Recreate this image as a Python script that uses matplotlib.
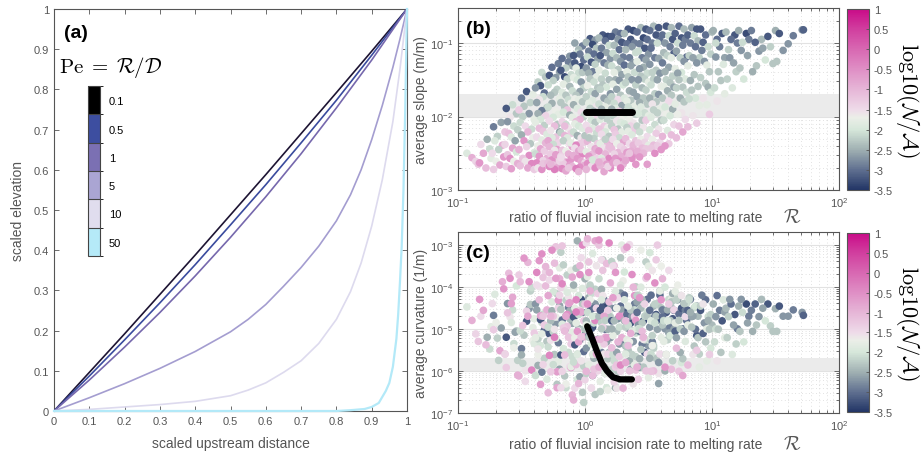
import numpy as np
import matplotlib
matplotlib.use('Agg')
import matplotlib.pyplot as plt
from matplotlib.colors import LinearSegmentedColormap, ListedColormap, BoundaryNorm, Normalize
import matplotlib.ticker as mticker
import matplotlib.colorbar as mcolorbar

plt.rcParams['font.family'] = ['Liberation Sans', 'DejaVu Sans']
plt.rcParams['mathtext.fontset'] = 'cm'

# ---------------- panel (a): scaled profiles ----------------
pe_labels = ['0.1', '0.5', '1', '5', '10', '50']
pe_colors = ['#1d1433', '#3a4b9e', '#7668ad', '#a49dd0', '#dddaee', '#b3e9f8']
box_colors = ['#000000', '#3d4ea0', '#7b70b3', '#aaa5d3', '#e0ddee', '#b5eaf8']

x_lin = [0, 0.1, 0.2, 0.3, 0.4, 0.5, 0.6, 0.7, 0.8, 0.9, 1.0]
z_pe01 = [0, 0.096, 0.192, 0.29, 0.388, 0.488, 0.588, 0.69, 0.792, 0.895, 1.0]
z_pe05 = [0, 0.087, 0.177, 0.269, 0.364, 0.463, 0.563, 0.667, 0.773, 0.885, 1.0]
z_pe1 = [0, 0.077, 0.159, 0.245, 0.336, 0.432, 0.533, 0.64, 0.754, 0.873, 1.0]
x_pe5 = [0, .1, .2, .3, .4, .5, .55, .6, .65, .7, .75, .8, .84, .87, .9, .93, .96, .98, 1]
z_pe5 = [0, .033, .068, .106, .148, .197, .228, .265, .31, .357, .41, .473, .538, .6, .675, .76, .855, .925, 1]
x_pe10 = [0, .1, .2, .3, .4, .5, .55, .6, .65, .7, .75, .8, .84, .87, .9, .93, .96, .98, 1]
z_pe10 = [0, .004, .01, .016, .024, .038, .052, .07, .096, .125, .168, .228, .297, .368, .46, .575, .72, .85, 1]
x_pe50 = [0, .8, .84, .88, .9, .92, .94, .95, .96, .97, .975, .98, .985, .99, .995, 1]
z_pe50 = [0, 0, .002, .005, .01, .02, .05, .07, .11, .18, .24, .32, .41, .55, .75, 1]

# ---------------- panels (b),(c): model runs (log10 values) ----------------
# log10(R) x100
log_R = [
 -93,-89,-86,-84,
 -77,-82,-75,-80,-74,-83,-78,
 -66,-72,-63,-69,-71,-65,-68,-73,-64,-70,-67,-72,
 -57,-62,-54,-59,-61,-56,-53,-60,-58,-55,-63,-57,-54,-61,-59,-56,-53,-62,-58,
 -46,-41,-50,-43,-48,-52,-44,-49,-40,-51,-47,-42,-45,-50,-41,-48,-43,-46,-52,-40,-44,-49,-47,-42,-51,-45,-40,
 -34,-31,-37,-35,-39,-32,-33,-36,-38,-30,-34,-37,-31,-35,-39,-32,-36,-33,-30,-38,-34,-31,-37,-35,-32,-39,-36,-30,-33,-38,-31,-35,-37,-34,-33,
 -21,-26,-20,-28,-23,-25,-29,-22,-24,-27,-20,-26,-29,-23,-21,-25,-28,-22,-24,-27,-20,-23,-26,-29,-21,-25,-28,-22,-24,-27,-20,-23,-26,-29,-21,-25,-28,-22,-24,-27,-20,-23,
 -12,-18,-13,-10,-15,-19,-11,-16,-14,-17,-12,-10,-18,-15,-13,-19,-11,-16,-14,-17,-12,-10,-18,-15,-13,-19,-11,-16,-14,-17,-12,-10,-18,-15,-13,-19,-11,-16,-14,-17,-12,-10,-18,-15,-13,-19,-11,-16,
 -2,-8,-5,-6,-4,-9,-1,-8,-3,-7,-5,-2,-9,-6,-3,0,-1,-4,-7,-8,-5,-2,-9,-6,-3,0,-1,-4,-7,-8,-5,-2,-9,-6,-3,0,-1,-4,-7,-8,-5,-2,-9,-6,-3,0,-1,-4,-7,-5,0,-3,
 4,8,1,6,9,3,7,2,10,5,8,1,6,3,9,4,7,2,10,5,8,1,6,3,9,4,7,2,10,5,8,1,6,3,9,4,7,2,10,5,8,1,6,3,9,4,7,2,10,5,8,1,6,3,9,
 14,18,11,16,19,13,17,12,20,15,18,11,16,13,19,14,17,12,20,15,18,11,16,13,19,14,17,12,20,15,18,11,16,13,19,14,17,12,20,15,18,11,16,13,19,14,17,12,20,15,18,11,16,13,19,
 24,28,21,26,29,23,27,22,30,25,28,21,26,23,29,24,27,22,30,25,28,21,26,23,29,24,27,22,30,25,28,21,26,23,29,24,27,22,30,25,28,21,26,23,29,24,27,22,30,25,28,21,
 34,38,31,36,39,33,37,32,40,35,38,31,36,33,39,34,37,32,40,35,38,31,36,33,39,34,37,32,40,35,38,31,36,33,39,34,37,32,40,35,38,31,36,33,39,34,37,32,40,35,
 44,48,41,46,49,43,47,42,50,45,48,41,46,43,49,44,47,42,50,45,48,41,46,43,49,44,47,42,50,45,48,41,46,43,49,44,47,42,50,45,48,41,46,43,49,
 54,58,51,56,59,53,57,52,60,55,58,51,56,53,59,54,57,52,60,55,58,51,56,53,59,54,57,52,60,55,58,51,56,53,59,54,57,52,60,55,
 64,68,61,66,69,63,67,62,70,65,68,61,66,63,69,64,67,62,70,65,68,61,66,63,69,64,67,62,70,65,68,61,66,63,
 74,78,71,76,79,73,77,72,80,75,78,71,76,73,79,74,77,72,80,75,78,71,76,73,79,74,77,72,
 84,88,81,86,89,83,87,82,90,85,88,81,86,83,89,84,87,82,90,85,88,81,
 95,91,100,93,97,92,99,94,96,98,91,95,97,99,93,96,98,
 101,108,104,106,103,110,109,105,107,102,103,110,104,
 111,118,115,113,120,114,117,119,112,116,
 121,127,129,124,123,128,122,125,
 131,139,134,137,135,132,
 144,146,140,142,148,
 150,153,156,151,
 164,160,
 171,172]
# log10(average slope) x100
log_slope = [
 -250,-256,-261,-265,
 -231,-238,-244,-250,-257,-263,-270,
 -208,-214,-221,-227,-233,-239,-245,-250,-255,-261,-266,-272,
 -184,-189,-196,-201,-207,-213,-218,-223,-228,-233,-238,-243,-248,-252,-257,-261,-264,-268,-271,
 -166,-170,-175,-181,-186,-191,-196,-200,-204,-208,-213,-217,-221,-225,-229,-233,-237,-241,-245,-249,-253,-257,-261,-264,-267,-270,-272,
 -140,-146,-153,-158,-161,-168,-173,-177,-181,-188,-192,-196,-199,-204,-208,-212,-216,-220,-224,-228,-232,-236,-240,-244,-247,-251,-254,-257,-260,-263,-266,-268,-270,-272,-264,
 -128,-133,-139,-144,-147,-151,-157,-163,-167,-171,-176,-182,-187,-193,-197,-201,-206,-211,-213,-219,-221,-228,-229,-233,-236,-238,-241,-245,-246,-251,-255,-256,-259,-263,-264,-266,-268,-270,-272,-265,-261,-252,
 -118,-121,-126,-131,-134,-137,-143,-146,-149,-156,-159,-165,-167,-171,-177,-181,-182,-187,-191,-194,-198,-201,-207,-211,-216,-222,-223,-226,-229,-233,-237,-241,-246,-247,-251,-254,-258,-261,-263,-264,-266,-268,-271,-274,-270,-256,-236,-213,
 -104,-100,-109,-114,-115,-117,-123,-127,-132,-134,-141,-140,-147,-150,-153,-160,-161,-166,-171,-176,-177,-180,-184,-189,-194,-197,-200,-204,-207,-210,-213,-216,-221,-226,-229,-231,-235,-237,-239,-243,-247,-251,-253,-257,-261,-263,-267,-269,-271,-275,-226,-245,
 -94,-96,-99,-102,-107,-111,-115,-119,-122,-126,-129,-134,-139,-141,-146,-149,-153,-158,-161,-166,-169,-173,-178,-182,-186,-189,-193,-197,-201,-205,-208,-212,-216,-219,-223,-227,-230,-234,-237,-241,-244,-248,-251,-254,-257,-260,-262,-264,-266,-268,-270,-272,-259,-229,-245,
 -89,-91,-93,-97,-103,-107,-113,-117,-121,-127,-130,-137,-141,-149,-150,-157,-160,-163,-169,-175,-179,-183,-187,-190,-193,-197,-203,-204,-209,-213,-215,-217,-221,-224,-227,-234,-235,-237,-240,-243,-246,-247,-251,-257,-257,-261,-265,-267,-270,-275,-268,-262,-231,-199,-241,
 -85,-87,-91,-95,-99,-103,-109,-114,-119,-120,-125,-131,-136,-140,-143,-150,-151,-156,-157,-163,-171,-173,-177,-182,-185,-189,-193,-199,-200,-206,-208,-213,-217,-218,-221,-224,-229,-231,-235,-237,-241,-244,-249,-251,-254,-257,-261,-263,-265,-263,-270,-190,
 -81,-83,-87,-95,-100,-101,-105,-109,-113,-120,-127,-130,-131,-139,-140,-146,-150,-154,-157,-165,-167,-175,-178,-179,-186,-187,-193,-196,-197,-204,-209,-210,-213,-215,-219,-220,-225,-230,-233,-237,-239,-245,-247,-249,-251,-255,-257,-260,-265,-250,
 -79,-81,-85,-93,-95,-101,-107,-111,-115,-120,-123,-125,-133,-135,-141,-145,-149,-150,-153,-161,-164,-173,-175,-181,-183,-187,-195,-196,-199,-205,-205,-213,-215,-221,-227,-231,-235,-236,-239,-243,-244,-247,-250,-255,-265,
 -77,-79,-83,-89,-97,-100,-100,-107,-119,-120,-121,-129,-137,-140,-141,-149,-150,-157,-159,-169,-170,-175,-180,-183,-190,-191,-195,-201,-205,-211,-217,-218,-223,-231,-235,-239,-240,-243,-245,-250,
 -77,-79,-89,-90,-95,-100,-105,-113,-114,-117,-120,-127,-133,-139,-145,-150,-154,-159,-160,-165,-171,-175,-179,-187,-190,-197,-199,-205,-211,-219,-225,-227,-237,-240,
 -77,-81,-87,-93,-95,-100,-103,-111,-119,-120,-125,-135,-140,-141,-149,-150,-160,-161,-167,-175,-180,-183,-195,-197,-204,-213,-221,-229,
 -79,-81,-89,-90,-97,-100,-105,-117,-120,-120,-127,-131,-143,-151,-159,-164,-175,-176,-185,-199,-209,-214,
 -89,-81,-85,-99,-105,-110,-115,-125,-130,-139,-147,-155,-160,-167,-175,-184,-197,
 -83,-87,-95,-105,-100,-120,-129,-139,-151,-161,-119,-169,-179,
 -85,-89,-95,-109,-100,-120,-127,-139,-149,-161,
 -83,-87,-95,-99,-110,-117,-134,-149,
 -83,-95,-99,-111,-131,-139,
 -91,-105,-107,-123,-128,
 -83,-87,-110,-125,
 -90,-101,
 -82,-82]
# log10(average curvature) x100
log_curv = [
 -448,-480,-512,-530,
 -520,-470,-548,-456,-495,-430,-538,
 -498,-468,-560,-522,-418,-388,-575,-440,-405,-485,-552,-502,
 -455,-520,-505,-472,-440,-535,-575,-368,-485,-508,-560,-425,-398,-462,-380,-545,-610,-592,-440,
 -482,-497,-547,-410,-515,-372,-452,-582,-476,-505,-625,-402,-342,-562,-528,-332,-442,-458,-612,-535,-388,-492,-600,-598,-388,-470,-510,
 -485,-497,-524,-478,-441,-503,-465,-400,-455,-530,-603,-587,-365,-540,-521,-570,-431,-378,-620,-396,-512,-352,-562,-469,-491,-611,-338,-455,-585,-366,-398,-632,-548,-322,-470,
 -533,-468,-445,-512,-488,-507,-543,-417,-561,-481,-355,-457,-496,-472,-577,-412,-384,-632,-344,-527,-596,-305,-436,-421,-451,-585,-366,-602,-501,-602,-381,-522,-313,-652,-432,-470,-563,-640,-520,-470,-420,-380,
 -461,-479,-449,-487,-432,-562,-516,-503,-372,-401,-476,-566,-489,-468,-556,-454,-361,-612,-494,-547,-458,-508,-601,-640,-424,-318,-536,-505,-413,-348,-590,-377,-303,-631,-440,-402,-592,-562,-466,-498,-438,-657,-393,-470,-520,-640,-590,-505,
 -461,-470,-499,-560,-526,-472,-554,-538,-430,-486,-466,-441,-405,-620,-511,-381,-675,-614,-356,-521,-505,-651,-396,-561,-331,-500,-589,-350,-585,-451,-421,-404,-579,-291,-576,-441,-481,-456,-431,-641,-531,-301,-669,-506,-460,-621,-519,-371,-460,-630,-500,-519,
 -456,-441,-481,-496,-471,-516,-451,-461,-525,-499,-406,-546,-611,-426,-531,-401,-486,-341,-551,-416,-556,-606,-321,-586,-350,-396,-570,-376,-600,-536,-656,-296,-561,-341,-476,-431,-530,-286,-416,-640,-291,-491,-611,-366,-451,-410,-596,-441,-526,-641,-480,-601,-470,-520,-560,
 -446,-441,-471,-501,-476,-556,-531,-456,-521,-431,-501,-541,-606,-486,-556,-336,-640,-649,-450,-590,-571,-381,-606,-406,-460,-421,-596,-525,-471,-536,-646,-301,-480,-336,-471,-496,-345,-625,-391,-560,-456,-289,-520,-431,-296,-361,-521,-525,-606,-470,-560,-591,-480,-500,-436,
 -451,-446,-481,-476,-526,-481,-590,-561,-526,-506,-415,-546,-601,-430,-455,-640,-536,-516,-470,-556,-331,-600,-426,-576,-466,-411,-566,-596,-386,-641,-396,-340,-620,-350,-301,-591,-496,-351,-470,-451,-601,-545,-531,-626,-521,-366,-470,-426,-641,-586,-586,-500,
 -456,-451,-481,-486,-441,-466,-531,-541,-510,-501,-530,-420,-596,-526,-455,-551,-470,-496,-566,-576,-506,-431,-455,-620,-586,-491,-561,-560,-400,-531,-631,-365,-336,-540,-471,-446,-505,-481,-598,-300,-401,-311,-511,-306,-421,-540,-371,-580,-480,-600,
 -451,-471,-461,-481,-430,-506,-556,-420,-540,-536,-526,-500,-521,-591,-460,-549,-470,-491,-526,-431,-341,-436,-591,-571,-470,-401,-526,-500,-351,-486,-380,-421,-525,-500,-560,-313,-441,-620,-616,-506,-600,-591,-520,-426,-376,
 -446,-479,-456,-466,-420,-531,-440,-420,-521,-470,-630,-496,-570,-516,-410,-546,-501,-560,-351,-441,-580,-570,-470,-361,-410,-540,-441,-481,-450,-486,-606,-319,-336,-540,-560,-600,-301,-601,-431,-391,
 -461,-451,-471,-430,-476,-500,-496,-480,-456,-526,-430,-455,-510,-600,-576,-561,-480,-530,-501,-455,-436,-491,-361,-401,-416,-561,-516,-481,-455,-481,-596,-381,-441,-591,
 -465,-441,-506,-451,-456,-420,-500,-521,-480,-500,-506,-486,-580,-431,-530,-480,-571,-431,-440,-556,-440,-411,-421,-396,-471,-601,-611,-546,
 -471,-516,-456,-450,-470,-430,-501,-426,-560,-470,-446,-491,-541,-461,-521,-496,-446,-431,-591,-561,-551,-586,
 -431,-456,-491,-511,-471,-420,-466,-486,-500,-501,-446,-531,-480,-546,-441,-576,-561,
 -441,-481,-421,-456,-500,-460,-431,-501,-556,-531,-471,-521,-576,
 -451,-466,-441,-471,-500,-430,-491,-536,-521,-561,
 -446,-441,-470,-461,-430,-486,-506,-531,
 -456,-430,-441,-471,-491,-506,
 -441,-493,-451,-481,-506,
 -452,-446,-470,-506,
 -455,-470,
 -461,-468]
# log10(N/A) x10
log_NA = [
 -19,-9,-14,-12,
 -25,-15,-21,-8,-18,-6,-11,
 -26,-29,-12,-22,-19,-9,-22,-15,-6,-17,-8,-13,
 -21,-32,-23,-16,-27,-21,-22,-11,-19,-26,-14,-8,-20,-12,-5,-17,-9,-13,-7,
 -32,-18,-29,-22,-23,-13,-27,-22,-18,-21,-15,-21,-10,-25,-17,-6,-23,-14,-9,-19,-5,-12,-16,-4,-11,-8,-13,
 -21,-23,-22,-32,-27,-30,-21,-16,-26,-23,-29,-25,-14,-20,-18,-22,-11,-12,-19,-15,-18,-10,-17,-8,-13,-21,-6,-9,-14,-4,-11,-7,-16,-5,-12,
 -29,-30,-26,-32,-27,-22,-21,-22,-23,-24,-18,-25,-21,-17,-18,-20,-15,-23,-11,-16,-26,-12,-19,-8,-14,-21,-10,-7,-16,-13,-9,-18,-5,-11,-6,-12,-4,-8,-3,-10,-14,-7,
 -27,-30,-29,-26,-22,-32,-21,-33,-22,-18,-24,-21,-19,-23,-21,-23,-17,-23,-12,-20,-25,-18,-14,-21,-16,-22,-13,-10,-19,-22,-15,-8,-12,-17,-9,-14,-6,-11,-5,-13,-7,-10,-4,-8,-12,-15,-18,-11,
 -29,-26,-24,-21,-29,-32,-30,-32,-33,-18,-21,-23,-18,-20,-27,-25,-22,-26,-23,-17,-18,-23,-25,-19,-15,-21,-22,-10,-11,-18,-20,-19,-21,-25,-16,-12,-13,-13,-4,-15,-8,-4,-9,-6,-8,-14,-9,-5,-3,-10,-23,-12,
 -32,-27,-24,-33,-23,-29,-30,-21,-26,-32,-22,-27,-29,-25,-18,-23,-21,-17,-23,-21,-26,-22,-19,-18,-16,-22,-25,-18,-14,-20,-23,-15,-19,-12,-21,-17,-22,-10,-13,-16,-8,-18,-11,-6,-14,-9,-12,-5,-7,-15,-4,-10,-20,-23,-9,
 -32,-33,-24,-30,-21,-29,-26,-32,-27,-29,-25,-18,-21,-22,-24,-23,-20,-22,-27,-26,-23,-21,-18,-25,-18,-16,-22,-19,-22,-13,-17,-12,-20,-15,-23,-14,-11,-18,-9,-16,-13,-6,-10,-19,-4,-12,-7,-10,-5,-8,-14,-9,-22,-23,-11,
 -29,-30,-32,-27,-32,-24,-30,-21,-29,-24,-27,-21,-23,-18,-26,-25,-27,-18,-20,-26,-23,-22,-15,-21,-26,-19,-13,-22,-17,-16,-19,-22,-23,-12,-18,-13,-21,-15,-8,-17,-14,-11,-10,-14,-9,-6,-5,-7,-10,-12,-4,-25,
 -32,-33,-24,-32,-29,-30,-27,-24,-21,-29,-27,-30,-26,-18,-21,-23,-27,-22,-22,-25,-26,-19,-23,-18,-18,-21,-22,-19,-22,-17,-16,-20,-14,-22,-13,-18,-19,-11,-12,-15,-10,-13,-9,-7,-6,-11,-5,-8,-6,-12,
 -24,-32,-30,-33,-30,-29,-32,-21,-27,-29,-26,-18,-25,-27,-21,-23,-22,-27,-18,-24,-22,-26,-23,-25,-23,-19,-21,-20,-18,-23,-13,-22,-16,-21,-15,-17,-14,-13,-18,-11,-12,-9,-10,-6,-7,
 -24,-32,-30,-32,-30,-29,-21,-30,-18,-29,-26,-27,-23,-22,-27,-22,-26,-21,-17,-22,-27,-25,-23,-16,-18,-22,-22,-19,-23,-21,-16,-20,-13,-17,-15,-11,-13,-12,-6,-5,
 -32,-24,-30,-21,-32,-27,-29,-24,-31,-22,-18,-29,-26,-25,-22,-22,-23,-18,-26,-25,-23,-23,-15,-20,-25,-17,-20,-21,-14,-19,-11,-10,-13,-6,
 -30,-24,-31,-32,-29,-21,-29,-26,-30,-22,-27,-18,-20,-26,-19,-23,-23,-22,-21,-25,-23,-18,-16,-17,-15,-12,-8,-11,
 -26,-32,-31,-21,-24,-29,-30,-22,-22,-26,-27,-18,-23,-25,-23,-23,-20,-21,-18,-16,-13,-11,
 -30,-32,-24,-31,-21,-29,-22,-27,-18,-23,-22,-23,-25,-20,-16,-18,-13,
 -25,-32,-30,-29,-21,-26,-19,-23,-23,-21,-27,-18,-16,
 -24,-32,-30,-22,-29,-27,-26,-22,-22,-19,
 -25,-33,-29,-21,-27,-26,-23,-20,
 -29,-24,-31,-27,-23,-25,
 -32,-22,-26,-20,-23,
 -25,-32,-27,-23,
 -29,-27,
 -27,-31]

# black reference results
line_R_b = [1.02, 1.3, 1.6, 1.9, 2.1, 2.34]
line_S_b = [0.0114, 0.0114, 0.0114, 0.0114, 0.0114, 0.0114]
line_R_c = [1.04, 1.135, 1.24, 1.36, 1.49, 1.66, 1.89, 2.34]
line_K_c = [1.15e-5, 6.0e-6, 2.95e-6, 1.51e-6, 1.0e-6, 7.1e-7, 6.3e-7, 6.3e-7]

n = min(len(log_R), len(log_slope), len(log_curv), len(log_NA))
R = 10 ** (np.array(log_R[:n]) / 100.0)
S = 10 ** (np.array(log_slope[:n]) / 100.0)
K = 10 ** (np.array(log_curv[:n]) / 100.0)
C = np.array(log_NA[:n]) / 10.0

cmap_na = LinearSegmentedColormap.from_list('na', [
    (0.0, '#223566'), (0.111, '#607090'), (0.222, '#a0b0b2'), (0.333, '#d6e7da'),
    (0.40, '#ebeee8'), (0.444, '#eedbe9'), (0.556, '#e6b6d7'), (0.667, '#df8fc5'),
    (0.778, '#d868b2'), (0.889, '#d13f9f'), (1.0, '#c90b88')])
norm_na = Normalize(-3.5, 1.0)

GRAY = '#555555'
W, H = 923, 456
fig = plt.figure(figsize=(W / 100, H / 100), dpi=100)

def fax(l, t, r, b):
    return [l / W, (H - b) / H, (r - l) / W, (b - t) / H]

axA = fig.add_axes(fax(54, 10, 407, 412))
axB = fig.add_axes(fax(458, 9, 839, 191))
axC = fig.add_axes(fax(458, 233, 839, 414))
caxB = fig.add_axes(fax(847, 10, 869, 191))
caxC = fig.add_axes(fax(847, 234, 869, 413))
legax = fig.add_axes(fax(88, 87, 100, 257))

def style(ax):
    ax.tick_params(which='both', direction='in', top=True, right=True,
                   colors=GRAY, labelcolor=GRAY, labelsize=8, width=0.6)
    ax.tick_params(which='major', length=3.5)
    ax.tick_params(which='minor', length=2)
    for sp in ax.spines.values():
        sp.set_color(GRAY)
        sp.set_linewidth(0.8)

# ---- (a)
curves = [(x_lin, z_pe01), (x_lin, z_pe05), (x_lin, z_pe1),
          (x_pe5, z_pe5), (x_pe10, z_pe10), (x_pe50, z_pe50)]
for i, (xx, zz) in enumerate(curves):
    lw = 1.6 if i == 5 else 1.2
    axA.plot(xx, zz, color=pe_colors[i], lw=lw, clip_on=(i != 5), zorder=3 + (i == 5) * 2,
             solid_joinstyle='round')
axA.set_xlim(0, 1)
axA.set_ylim(0, 1)
axA.set_xticks(np.arange(0, 1.01, 0.1))
axA.set_yticks(np.arange(0, 1.01, 0.1))
fmt = mticker.FuncFormatter(lambda v, p: '%g' % round(v, 2))
axA.xaxis.set_major_formatter(fmt)
axA.yaxis.set_major_formatter(fmt)
style(axA)
axA.set_xlabel('scaled upstream distance', fontsize=10, color=GRAY)
axA.set_ylabel('scaled elevation', fontsize=10, color=GRAY)
axA.xaxis.set_label_coords(0.5, -0.063)
axA.yaxis.set_label_coords(-0.082, 0.5)
axA.text(0.028, 0.963, '(a)', transform=axA.transAxes, fontsize=14, fontweight='bold', va='top', ha='left')
axA.text(0.015, 0.856, r'$\mathrm{Pe}\;=\;\mathcal{R}/\mathcal{D}$', transform=axA.transAxes,
         fontsize=15, va='center', ha='left')

pe_cmap = ListedColormap(box_colors[::-1])
cbl = mcolorbar.ColorbarBase(legax, cmap=pe_cmap, norm=BoundaryNorm(np.arange(7), 6),
                             boundaries=np.arange(7), ticks=np.arange(6) + 0.5,
                             drawedges=True, orientation='vertical')
cbl.set_ticklabels(pe_labels[::-1])
cbl.outline.set_edgecolor('#444444')
cbl.outline.set_linewidth(0.8)
cbl.dividers.set_color('#444444')
cbl.dividers.set_linewidth(0.8)
legax.tick_params(length=0, labelsize=8, pad=6.5, colors='black')

# ---- (b) and (c)
def scatter_panel(ax, y, ylim, band, yl, lab, xlab_y):
    ax.set_xscale('log')
    ax.set_yscale('log')
    ax.set_xlim(0.1, 100)
    ax.set_ylim(*ylim)
    ax.set_axisbelow(True)
    ax.grid(True, which='major', color='#e2e2e2', lw=0.8, ls='-')
    ax.grid(True, which='minor', color='#c8c8c8', lw=0.5, ls=(0, (1, 4)))
    ax.axhspan(band[0], band[1], color='#ebebeb', zorder=0.8, lw=0)
    ax.scatter(R, y, c=C, cmap=cmap_na, norm=norm_na, s=30, edgecolors='none', zorder=2)
    ax.yaxis.set_minor_formatter(mticker.NullFormatter())
    ax.xaxis.set_minor_formatter(mticker.NullFormatter())
    style(ax)
    ax.set_ylabel(yl, fontsize=10, color=GRAY)
    ax.yaxis.set_label_coords(-0.079, 0.5)
    ax.text(0.467, xlab_y, 'ratio of fluvial incision rate to melting rate', transform=ax.transAxes,
            fontsize=10, color=GRAY, ha='center', va='center')
    ax.text(0.877, xlab_y, r'$\mathcal{R}$', transform=ax.transAxes,
            fontsize=14, color=GRAY, ha='center', va='center')
    ax.text(0.02, 0.935, lab, transform=ax.transAxes, fontsize=14, fontweight='bold', va='top', ha='left')

scatter_panel(axB, S, (1e-3, 0.3), (0.01, 0.02), 'average slope (m/m)', '(b)', -0.148)
axB.plot(line_R_b, line_S_b, color='black', lw=5, solid_capstyle='round', zorder=4)
scatter_panel(axC, K, (1e-7, 2e-3), (1e-6, 2e-6), 'average curvature (1/m)', '(c)', -0.172)
axC.plot(line_R_c, line_K_c, color='black', lw=4.5, solid_capstyle='round', zorder=4)
axC.set_yticks([1e-7, 1e-6, 1e-5, 1e-4, 1e-3])

for cax in (caxB, caxC):
    cb = mcolorbar.ColorbarBase(cax, cmap=cmap_na, norm=norm_na, orientation='vertical')
    ticks = np.arange(-3.5, 1.01, 0.5)
    cb.set_ticks(ticks)
    cb.set_ticklabels(['%g' % t for t in ticks])
    cb.outline.set_edgecolor(GRAY)
    cb.outline.set_linewidth(0.8)
    cax.tick_params(labelsize=8, colors=GRAY, labelcolor=GRAY, length=2, direction='in', width=0.6)
    cax.set_ylabel(r'$\mathrm{log10}(\mathcal{N}/\mathcal{A})$', fontsize=16, rotation=270, color='black')
    cax.yaxis.set_label_coords(2.75, 0.5)
    cax.yaxis.label.set_va('center')

fig.savefig('out.png', dpi=100)
